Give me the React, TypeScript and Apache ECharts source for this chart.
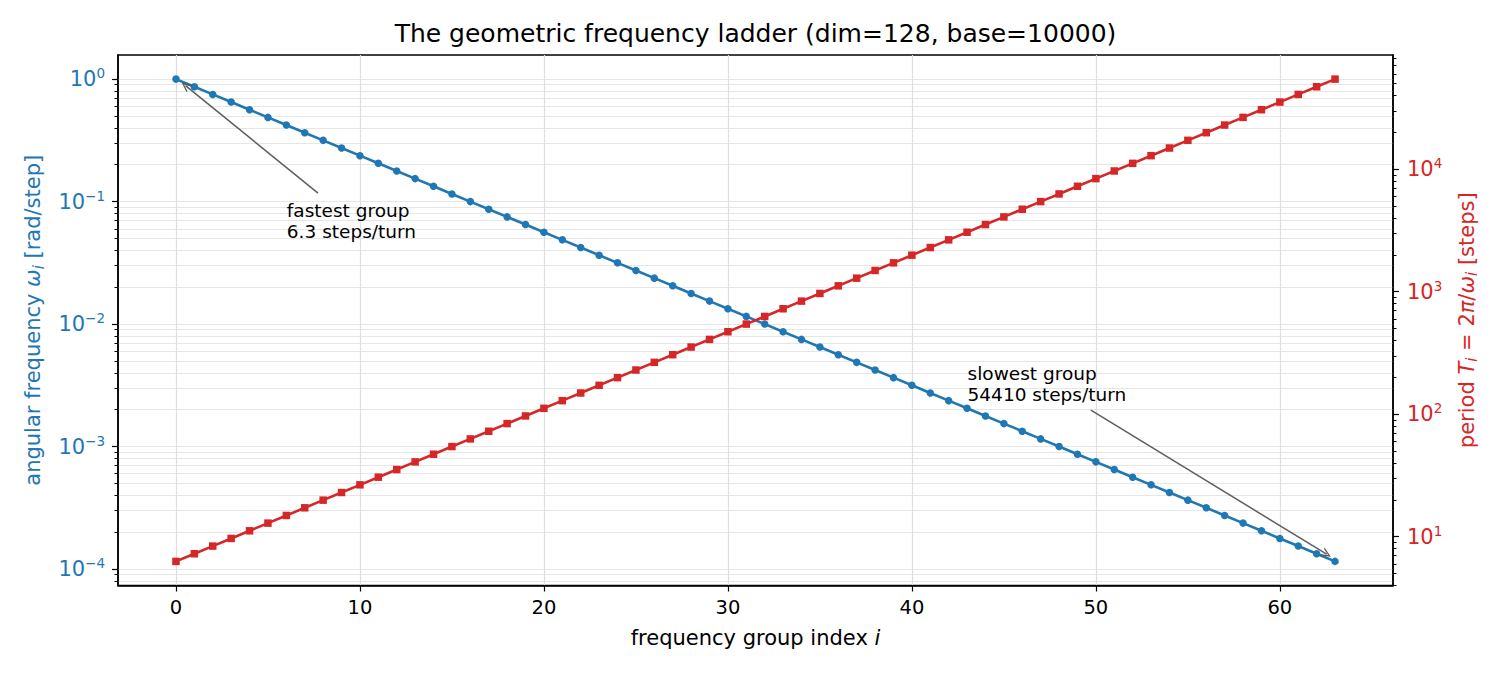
import React, { useEffect, useRef } from "react";
import * as echarts from "echarts";

// ---- data ----
const GROUP_INDEX = [
  0, 1, 2, 3, 4, 5, 6, 7, 8, 9, 10, 11, 12, 13, 14, 15,
  16, 17, 18, 19, 20, 21, 22, 23, 24, 25, 26, 27, 28, 29, 30, 31,
  32, 33, 34, 35, 36, 37, 38, 39, 40, 41, 42, 43, 44, 45, 46, 47,
  48, 49, 50, 51, 52, 53, 54, 55, 56, 57, 58, 59, 60, 61, 62, 63,
];

const OMEGA = [
  1, 0.866, 0.7499, 0.6494, 0.5623, 0.487, 0.4217, 0.3652, 0.3162, 0.2738, 0.2371, 0.2054, 0.1778, 0.154, 0.1334, 0.1155,
  0.1, 0.0866, 0.07499, 0.06494, 0.05623, 0.0487, 0.04217, 0.03652, 0.03162, 0.02738, 0.02371, 0.02054, 0.01778, 0.0154, 0.01334, 0.01155,
  0.01, 0.00866, 0.007499, 0.006494, 0.005623, 0.00487, 0.004217, 0.003652, 0.003162, 0.002738, 0.002371, 0.002054, 0.001778, 0.00154, 0.001334, 0.001155,
  0.001, 0.000866, 0.0007499, 0.0006494, 0.0005623, 0.000487, 0.0004217, 0.0003652, 0.0003162, 0.0002738, 0.0002371, 0.0002054, 0.0001778, 0.000154, 0.0001334, 0.0001155,
];

const PERIOD = [
  6.283, 7.256, 8.379, 9.675, 11.17, 12.9, 14.9, 17.21, 19.87, 22.94, 26.5, 30.6, 35.33, 40.8, 47.12, 54.41,
  62.83, 72.56, 83.79, 96.75, 111.7, 129.0, 149.0, 172.1, 198.7, 229.4, 265.0, 306.0, 353.3, 408.0, 471.2, 544.1,
  628.3, 725.6, 837.9, 967.5, 1117, 1290, 1490, 1721, 1987, 2294, 2650, 3060, 3533, 4080, 4712, 5441,
  6283, 7256, 8379, 9675, 11170, 12900, 14900, 17210, 19870, 22940, 26500, 30600, 35330, 40800, 47120, 54410,
];

const X_TICKS = [0, 10, 20, 30, 40, 50, 60];
const X_RANGE = [-3.15, 66.15];

const OMEGA_RANGE = [7.339e-5, 1.5734];
const OMEGA_MAJOR = [1e-4, 1e-3, 1e-2, 1e-1, 1];
const OMEGA_MINOR = [
  8e-5, 9e-5,
  2e-4, 3e-4, 4e-4, 5e-4, 6e-4, 7e-4, 8e-4, 9e-4,
  2e-3, 3e-3, 4e-3, 5e-3, 6e-3, 7e-3, 8e-3, 9e-3,
  0.02, 0.03, 0.04, 0.05, 0.06, 0.07, 0.08, 0.09,
  0.2, 0.3, 0.4, 0.5, 0.6, 0.7, 0.8, 0.9,
];

const PERIOD_RANGE = [3.994, 85610];
const PERIOD_MAJOR = [10, 100, 1000, 10000];
const PERIOD_MINOR = [
  4, 5, 6, 7, 8, 9,
  20, 30, 40, 50, 60, 70, 80, 90,
  200, 300, 400, 500, 600, 700, 800, 900,
  2000, 3000, 4000, 5000, 6000, 7000, 8000, 9000,
  20000, 30000, 40000, 50000, 60000, 70000, 80000,
];

const ANNOT_TEXTS = [
  { at: [6, 0.07], text: "fastest group\n6.3 steps/turn" },
  { at: [43, 3.27e-3], text: "slowest group\n54410 steps/turn" },
];
const ANNOT_ARROWS = [
  { from: [7.72, 0.1173], to: [0.52, 0.885] },
  { from: [49.73, 1.986e-3], to: [62.54, 1.323e-4] },
];

// ---- styles ----
const FONT = "'DejaVu Sans', 'Noto Sans', sans-serif";
const BLUE = "#1f77b4";
const RED = "#d62728";
const TICK_FS = 19.5;
const ANNOT_FS = 18.5;

function powLabel(v: number): string {
  const e = Math.round(Math.log10(v));
  const s = e < 0 ? "\u2212" + String(-e) : String(e);
  return `{b|10}{s|${s}}`;
}

function powRich(color: string) {
  return {
    b: { fontSize: 21, lineHeight: 26, color, fontFamily: FONT },
    s: { fontSize: 13.5, lineHeight: 18.5, verticalAlign: "top", color, fontFamily: FONT },
  };
}

function nameRich(color: string) {
  return {
    it: { fontSize: 21, fontStyle: "italic", color, fontFamily: FONT, lineHeight: 26 },
    s: { fontSize: 15, fontStyle: "italic", color, fontFamily: FONT, lineHeight: 15, verticalAlign: "bottom" },
  };
}

function logAxis(opts: any) {
  return {
    type: "log",
    logBase: 10,
    min: opts.range[0],
    max: opts.range[1],
    position: opts.position,
    ...opts.extra,
  };
}

export default function App() {
  const ref = useRef<HTMLDivElement>(null);

  useEffect(() => {
    if (!ref.current) return;
    const chart = echarts.init(ref.current, null, { renderer: "svg" });

    const blueData = GROUP_INDEX.map((x, i) => [x, OMEGA[i]]);
    const redData = GROUP_INDEX.map((x, i) => [x, PERIOD[i]]);

    const spine = { show: true, onZero: false, lineStyle: { color: "#000", width: 1.5 } };
    const noSpine = { show: false, onZero: false };

    const option: any = {
      animation: false,
      backgroundColor: "#ffffff",
      textStyle: { fontFamily: FONT },
      title: {
        text: "The geometric frequency ladder (dim=128, base=10000)",
        left: 755.5,
        top: 21,
        padding: 0,
        textAlign: "center",
        textVerticalAlign: "top",
        textStyle: { fontSize: 25, fontWeight: "normal", color: "#000", fontFamily: FONT },
      },
      grid: {
        left: 118,
        right: 107,
        top: 55,
        bottom: 89.5,
        containLabel: false,
        outerBoundsMode: "none",
        show: true,
        borderColor: "#000",
        borderWidth: 1.5,
        backgroundColor: "transparent",
      },
      xAxis: [
        {
          type: "value",
          min: X_RANGE[0],
          max: X_RANGE[1],
          position: "bottom",
          axisLine: spine,
          axisTick: { show: true, customValues: X_TICKS, length: 6, lineStyle: { color: "#000", width: 1.2 } },
          axisLabel: {
            show: true,
            customValues: X_TICKS,
            margin: 12,
            fontSize: TICK_FS,
            color: "#000",
            fontFamily: FONT,
          },
          splitLine: { show: true, lineStyle: { color: "#dedede", width: 1.2 } },
          name: "frequency group index {it|i}",
          nameLocation: "middle",
          nameGap: 39,
          nameTextStyle: { fontSize: 21, color: "#000", fontFamily: FONT, lineHeight: 26, rich: nameRich("#000") },
        },
      ],
      yAxis: [
        logAxis({
          range: OMEGA_RANGE,
          position: "left",
          extra: {
            axisLine: spine,
            axisTick: { show: true, customValues: OMEGA_MAJOR, length: 6, lineStyle: { color: "#000", width: 1.2 } },
            axisLabel: {
              show: true,
              customValues: OMEGA_MAJOR,
              margin: 13,
              fontSize: 21,
              fontFamily: FONT,
              formatter: powLabel,
              color: BLUE,
              rich: powRich(BLUE),
            },
            splitLine: { show: true, lineStyle: { color: "#e6e6e6", width: 1.2 } },
            name: "angular frequency {it|ω}{s|i} [rad/step]",
            nameLocation: "middle",
            nameGap: 72,
            nameTextStyle: { fontSize: 21, color: BLUE, fontFamily: FONT, lineHeight: 26, rich: nameRich(BLUE) },
          },
        }),
        logAxis({
          range: PERIOD_RANGE,
          position: "right",
          extra: {
            axisLine: spine,
            axisTick: { show: true, customValues: PERIOD_MAJOR, length: 6, lineStyle: { color: "#000", width: 1.2 } },
            axisLabel: {
              show: true,
              customValues: PERIOD_MAJOR,
              margin: 14,
              fontSize: 21,
              fontFamily: FONT,
              formatter: powLabel,
              color: RED,
              rich: powRich(RED),
            },
            splitLine: { show: false },
            name: "period {it|T}{s|i} = 2{it|π}/{it|ω}{s|i} [steps]",
            nameLocation: "middle",
            nameGap: 60.5,
            nameTextStyle: { fontSize: 21, color: RED, fontFamily: FONT, lineHeight: 26, rich: nameRich(RED) },
          },
        }),
        logAxis({
          range: OMEGA_RANGE,
          position: "left",
          extra: {
            axisLine: noSpine,
            axisTick: { show: true, customValues: OMEGA_MINOR, length: 3.5, lineStyle: { color: "#000", width: 1 } },
            axisLabel: { show: false },
            splitLine: { show: true, lineStyle: { color: "#e6e6e6", width: 1.2 } },
          },
        }),
        logAxis({
          range: PERIOD_RANGE,
          position: "right",
          extra: {
            axisLine: noSpine,
            axisTick: { show: true, customValues: PERIOD_MINOR, length: 3.5, lineStyle: { color: "#000", width: 1 } },
            axisLabel: { show: false },
            splitLine: { show: false },
          },
        }),
      ],
      series: [
        {
          type: "line",
          name: "omega",
          xAxisIndex: 0,
          yAxisIndex: 0,
          data: blueData,
          color: BLUE,
          symbol: "circle",
          symbolSize: 7.5,
          showSymbol: true,
          lineStyle: { width: 2.6, color: BLUE },
          itemStyle: { color: BLUE },
          z: 3,
          markLine: {
            silent: true,
            animation: false,
            symbol: ["none", "path://M0,10 L5,0 L10,10 L8.4,10 L5,3.2 L1.6,10 Z"],
            symbolSize: [9, 10],
            label: { show: false },
            lineStyle: { color: "#555555", width: 1.5, type: "solid", opacity: 0.95 },
            data: ANNOT_ARROWS.map((a) => [{ coord: a.from }, { coord: a.to }]),
          },
          markPoint: {
            silent: true,
            animation: false,
            symbol: "circle",
            symbolSize: 1,
            itemStyle: { color: "rgba(0,0,0,0)" },
            data: ANNOT_TEXTS.map((t) => ({
              coord: t.at,
              label: {
                show: true,
                formatter: t.text,
                position: "right",
                distance: 0,
                align: "left",
                color: "#000",
                fontSize: ANNOT_FS,
                lineHeight: 21,
                fontFamily: FONT,
              },
            })),
          },
        },
        {
          type: "line",
          name: "period",
          xAxisIndex: 0,
          yAxisIndex: 1,
          data: redData,
          color: RED,
          symbol: "rect",
          symbolSize: 7.5,
          showSymbol: true,
          lineStyle: { width: 2.6, color: RED },
          itemStyle: { color: RED },
          z: 4,
        },
      ],
    };

    chart.setOption(option);
    return () => chart.dispose();
  }, []);

  return (
    <div
      ref={ref}
      style={{ position: "fixed", left: 0, top: 0, width: 1500, height: 675, background: "#fff" }}
    />
  );
}
